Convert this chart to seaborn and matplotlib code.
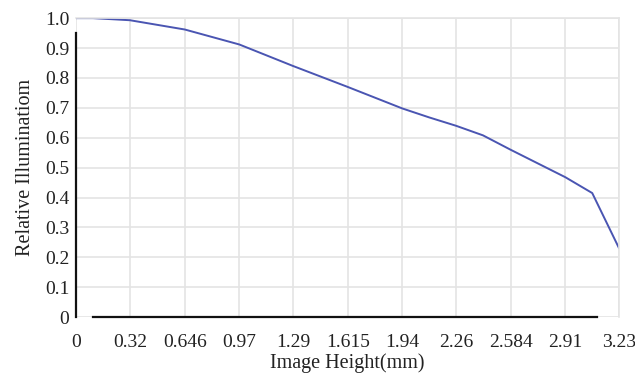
import matplotlib
matplotlib.use("Agg")
import matplotlib.pyplot as plt
import seaborn as sns
import pandas as pd

image_height = [0, 0.1, 0.32, 0.646, 0.97, 1.29, 1.615, 1.94, 2.1, 2.26, 2.42, 2.584, 2.91, 3.07, 3.23]
relative_illum = [1.0, 1.0, 0.993, 0.962, 0.912, 0.840, 0.770, 0.698, 0.668, 0.640, 0.608, 0.560, 0.468, 0.415, 0.23]
x_tick_pos = [0, 0.323, 0.646, 0.969, 1.292, 1.615, 1.938, 2.261, 2.584, 2.907, 3.23]
x_tick_labels = ["0", "0.32", "0.646", "0.97", "1.29", "1.615", "1.94", "2.26", "2.584", "2.91", "3.23"]
y_ticks = [0, 0.1, 0.2, 0.3, 0.4, 0.5, 0.6, 0.7, 0.8, 0.9, 1.0]
y_tick_labels = ["0", "0.1", "0.2", "0.3", "0.4", "0.5", "0.6", "0.7", "0.8", "0.9", "1.0"]

df = pd.DataFrame({"x": image_height, "y": relative_illum})

sns.set_theme(style="white")
plt.rcParams['font.family'] = ['Liberation Serif', 'DejaVu Serif']

fig, ax = plt.subplots(figsize=(6.35, 3.78), dpi=100)
fig.subplots_adjust(left=0.12, right=0.975, top=0.952, bottom=0.161)

sns.lineplot(data=df, x="x", y="y", ax=ax, color="#4a55b2", linewidth=1.4)

ax.set_xlim(0, 3.23)
ax.set_ylim(0, 1.0)
ax.set_xticks(x_tick_pos)
ax.set_xticklabels(x_tick_labels)
ax.set_yticks(y_ticks)
ax.set_yticklabels(y_tick_labels)
ax.tick_params(axis="both", labelsize=14, colors="#222222", length=0)
ax.tick_params(axis="x", pad=12)
ax.tick_params(axis="y", pad=5)
ax.grid(True, color="#e4e4e4", linewidth=1.2)
ax.set_axisbelow(True)

for s in ["top", "right"]:
    ax.spines[s].set_color("#e4e4e4")
    ax.spines[s].set_linewidth(1.2)
ax.spines["left"].set_color("#111111")
ax.spines["left"].set_linewidth(1.6)
ax.spines["left"].set_bounds(0, 0.95)
ax.spines["bottom"].set_color("#111111")
ax.spines["bottom"].set_linewidth(1.6)
ax.spines["bottom"].set_bounds(0.1, 3.1)

ax.set_xlabel("Image Height(mm)", fontsize=14.5, color="#222222", labelpad=2)
ax.set_ylabel("Relative Illuminatiom", fontsize=14.5, color="#222222", labelpad=7)

fig.savefig("out.png", dpi=100, facecolor="white")
